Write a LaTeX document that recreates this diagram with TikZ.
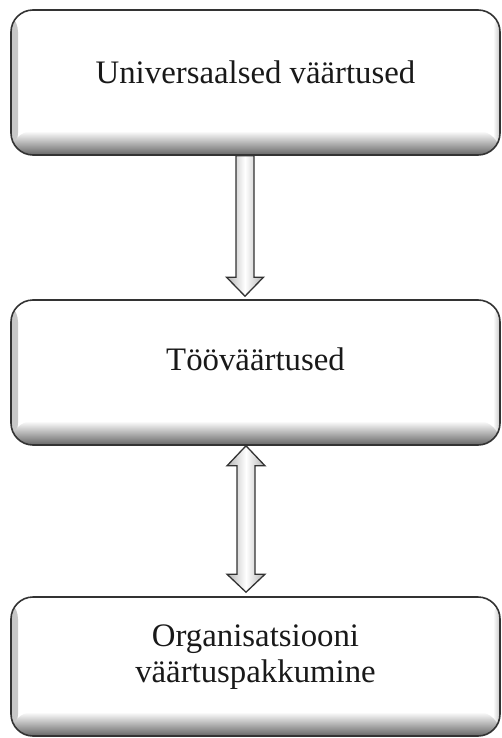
\documentclass[tikz,border=0pt]{standalone}
\usepackage{fontspec}
\setmainfont{Liberation Serif}
\usepackage{xcolor}
\usepackage{tikz}
\usetikzlibrary{calc}

\tikzset{
  valuebox/.style={draw=black!80, line width=1.6pt, rounded corners=22pt, fill=white,
    minimum width=489pt, inner sep=0pt,
    path picture={
      \shade[left color=black!22, right color=white] (path picture bounding box.south west) rectangle ([xshift=7pt]path picture bounding box.north west);
      \shade[right color=black!22, left color=white] (path picture bounding box.south east) rectangle ([xshift=-7pt]path picture bounding box.north east);
      \shade[top color=white, bottom color=black!60] ([yshift=24pt]path picture bounding box.south west) rectangle (path picture bounding box.south east);
    }},
  boxtext/.style={font=\fontsize{32.8}{36}\selectfont, align=center, text=black!90},
  blockarrow/.style={draw=black!80, line width=1.3pt, line join=miter,
    left color=black!30, right color=black!30, middle color=white}
}

\begin{document}
\begin{tikzpicture}[x=1pt, y=1pt]

\useasboundingbox (0,0) rectangle (501,-738);

% Universal values
\node[valuebox, minimum height=145pt] (univ) at (255.5,-82.5) {};
\node[boxtext] (univtxt) at ([yshift=10.5pt]univ.center) {Universaalsed väärtused};

% Work values
\node[valuebox, minimum height=145pt] (work) at (255.5,-372.5) {};
\node[boxtext] (worktxt) at ([yshift=13.5pt]work.center) {Tööväärtused};

% Value proposition of the organisation
\node[valuebox, minimum height=139pt] (org) at (255.5,-666.5) {};
\node[boxtext] (orgtxt) at ([yshift=9pt]org.center) {Organisatsiooni\\väärtuspakkumine};

% Arrow down
\coordinate (a1s) at ([xshift=-10.5pt]univ.south);
\coordinate (a1e) at ([xshift=-10.5pt,yshift=3pt]work.north);
\draw[blockarrow] ($(a1s)+(-9,0)$) -- ($(a1e)+(-9,19)$) -- ($(a1e)+(-18.5,19)$) -- (a1e)
  -- ($(a1e)+(18.5,19)$) -- ($(a1e)+(9,19)$) -- ($(a1s)+(9,0)$) -- cycle;

% Two-way arrow
\coordinate (a2s) at ([xshift=-9.5pt]work.south);
\coordinate (a2e) at ([xshift=-9.5pt,yshift=4pt]org.north);
\draw[blockarrow] (a2s) -- ($(a2s)+(19,-20)$) -- ($(a2s)+(9,-20)$) -- ($(a2e)+(9,18)$)
  -- ($(a2e)+(19,18)$) -- (a2e) -- ($(a2e)+(-19,18)$) -- ($(a2e)+(-9,18)$)
  -- ($(a2s)+(-9,-20)$) -- ($(a2s)+(-19,-20)$) -- cycle;

\end{tikzpicture}
\end{document}
